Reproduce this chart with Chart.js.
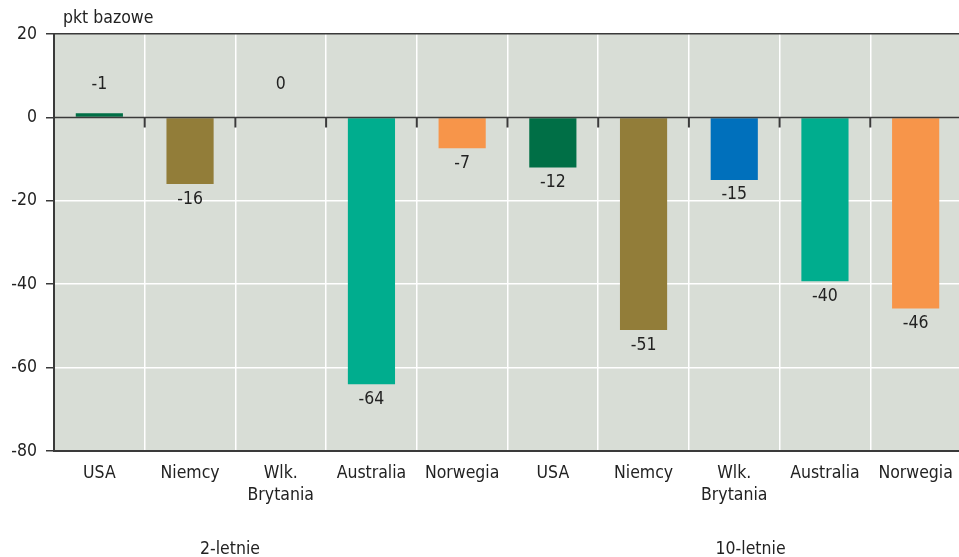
<!DOCTYPE html>
<html>
<head>
<meta charset="utf-8">
<script src="https://cdn.jsdelivr.net/npm/chart.js@4.4.1/dist/chart.umd.min.js"></script>
<style>
  html, body { margin: 0; padding: 0; background: #fff; overflow: hidden; }
  #wrap { width: 961px; height: 557px; }
</style>
</head>
<body>
<div id="wrap"><canvas id="chart" width="961" height="557"></canvas></div>
<script>
var categories = ['USA', 'Niemcy', ['Wlk.', 'Brytania'], 'Australia', 'Norwegia',
                  'USA', 'Niemcy', ['Wlk.', 'Brytania'], 'Australia', 'Norwegia'];
var barValues = [1, -16, 0, -64, -7.4, -12, -51, -15, -39.3, -45.8];
var valueLabels = ['-1', '-16', '0', '-64', '-7', '-12', '-51', '-15', '-40', '-46'];
var groups = ['2-letnie', '10-letnie'];
var groupPos = [1.44, 7.18];   // position in category units
var yTicks = [20, 0, -20, -40, -60, -80];

var countryColors = ['#006f46', '#927d39', '#0070bc', '#00ad8e', '#f7954a'];
var barColors = barValues.map(function(v, i) { return countryColors[i % 5]; });

var FONT = "'Liberation Sans Narrow', 'DejaVu Sans Condensed', Arial, sans-serif";
var TXT = '#222222';
var DARK = '#3a3a3a';

var extras = {
  id: 'extras',
  beforeDraw: function(chart) {
    var ctx = chart.ctx, a = chart.chartArea;
    ctx.save();
    ctx.fillStyle = '#d8ddd6';
    ctx.fillRect(a.left, a.top, a.right - a.left, a.bottom - a.top);
    ctx.restore();
  },
  afterDatasetsDraw: function(chart) {
    var ctx = chart.ctx, a = chart.chartArea;
    var xs = chart.scales.x, ys = chart.scales.y;
    var y0 = ys.getPixelForValue(0);
    ctx.save();
    // zero line and its ticks
    ctx.strokeStyle = DARK;
    ctx.lineWidth = 1.5;
    ctx.beginPath();
    ctx.moveTo(a.left, y0);
    ctx.lineTo(a.right, y0);
    ctx.stroke();
    ctx.lineWidth = 2;
    ctx.beginPath();
    for (var i = 1; i < categories.length; i++) {
      var bx = (xs.getPixelForValue(i - 1) + xs.getPixelForValue(i)) / 2;
      ctx.moveTo(bx, y0);
      ctx.lineTo(bx, y0 + 10);
    }
    ctx.stroke();

    // value labels
    ctx.fillStyle = TXT;
    ctx.font = '17.5px ' + FONT;
    ctx.textAlign = 'center';
    ctx.textBaseline = 'middle';
    var meta = chart.getDatasetMeta(0);
    meta.data.forEach(function(bar, i) {
      var v = barValues[i], y;
      if (Math.abs(v) < 2) y = ys.getPixelForValue(7.8);
      else y = bar.y + 15;
      ctx.fillText(valueLabels[i], bar.x, y);
    });

    // axis title
    ctx.textAlign = 'left';
    ctx.fillText('pkt bazowe', 63, 18);

    // group labels
    ctx.textAlign = 'center';
    groups.forEach(function(g, i) {
      ctx.fillText(g, xs.getPixelForValue(groupPos[i]), 549);
    });
    ctx.restore();
  }
};

new Chart(document.getElementById('chart'), {
  type: 'bar',
  data: {
    labels: categories,
    datasets: [{
      data: barValues,
      backgroundColor: barColors,
      borderWidth: 0,
      barPercentage: 0.52,
      categoryPercentage: 1
    }]
  },
  options: {
    responsive: false,
    animation: false,
    layout: { padding: { top: 34, right: 0, left: 0, bottom: 0 } },
    plugins: { legend: { display: false }, tooltip: { enabled: false } },
    scales: {
      x: {
        grid: {
          offset: true,
          color: function(c) { return c.index === 0 ? DARK : '#ffffff'; },
          lineWidth: 1.5,
          drawTicks: false
        },
        border: { display: true, color: DARK, width: 2 },
        ticks: {
          color: TXT,
          font: { family: FONT, size: 17.5, lineHeight: 1.27 },
          padding: 11,
          maxRotation: 0,
          autoSkip: false
        },
        afterFit: function(s) { s.height = 106; s.paddingLeft = 0; s.paddingRight = 0; }
      },
      y: {
        min: -80,
        max: 20,
        afterBuildTicks: function(s) { s.ticks = yTicks.map(function(v) { return { value: v }; }); },
        grid: {
          color: function(c) {
            var v = c.tick && c.tick.value;
            return (v === 20 || v === -80) ? DARK : (v === 0 ? 'rgba(0,0,0,0)' : '#ffffff');
          },
          lineWidth: 1.5,
          tickColor: DARK,
          tickLength: 8
        },
        border: { display: true, color: DARK, width: 2 },
        ticks: {
          color: TXT,
          font: { family: FONT, size: 17.5 },
          padding: 9
        },
        afterFit: function(s) { s.width = 54; s.paddingTop = 0; s.paddingBottom = 0; }
      }
    }
  },
  plugins: [extras]
});
</script>
</body>
</html>
